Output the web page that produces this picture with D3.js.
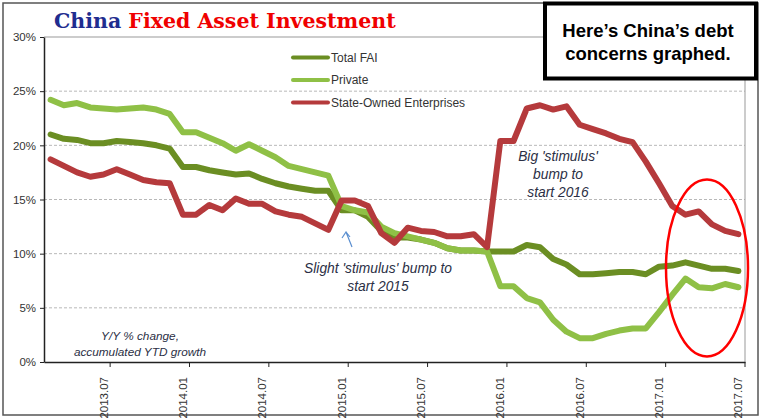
<!DOCTYPE html>
<html>
<head>
<meta charset="utf-8">
<script src="https://cdn.jsdelivr.net/npm/d3@7"></script>
<style>
  body { margin: 0; background: #fff; }
  svg { display: block; }
</style>
</head>
<body>
<div class="chart"></div>
<script>
// months on the axis, 2013.03 .. 2017.07
var months = [];
for (var yr = 2013; yr <= 2017; yr++) {
  for (var mo = 1; mo <= 12; mo++) {
    if (yr == 2013 && mo < 3) continue;
    if (yr == 2017 && mo > 7) continue;
    months.push(yr + "." + (mo < 10 ? "0" + mo : mo));
  }
}

var tickLabels = ["2013.07", "2014.01", "2014.07", "2015.01", "2015.07",
                  "2016.01", "2016.07", "2017.01", "2017.07"];
var yTicks = [0, 5, 10, 15, 20, 25, 30];

var totalFAI = [21.0, 20.6, 20.5, 20.2, 20.2, 20.4, 20.3, 20.2, 20.0, 19.7,
                18.0, 18.0, 17.7, 17.5, 17.3, 17.4, 16.9, 16.5, 16.2, 16.0, 15.8, 15.8,
                14.0, 14.0, 13.4, 12.1, 11.5, 11.5, 11.3, 11.0, 10.5, 10.3, 10.3, 10.2,
                10.2, 10.2, 10.8, 10.6, 9.5, 9.0, 8.1, 8.1, 8.2, 8.3, 8.3, 8.1,
                8.8, 8.9, 9.2, 8.9, 8.6, 8.6, 8.4];

var privateFAI = [24.2, 23.7, 23.9, 23.5, 23.4, 23.3, 23.4, 23.5, 23.3, 22.9,
                  21.2, 21.2, 20.7, 20.2, 19.5, 20.1, 19.5, 18.9, 18.1, 17.8, 17.5, 17.2,
                  14.4, 14.0, 13.8, 12.5, 11.9, 11.6, 11.3, 11.0, 10.5, 10.3, 10.3, 10.2,
                  7.0, 7.0, 5.9, 5.5, 3.9, 2.8, 2.2, 2.2, 2.6, 2.9, 3.1, 3.1,
                  4.6, 6.2, 7.7, 6.9, 6.8, 7.2, 6.9];

var soeFAI = [18.7, 18.1, 17.5, 17.1, 17.3, 17.8, 17.3, 16.8, 16.6, 16.5,
              13.6, 13.6, 14.5, 14.0, 15.1, 14.6, 14.6, 13.9, 13.6, 13.4, 12.8, 12.2,
              14.9, 14.9, 14.4, 11.9, 11.0, 12.4, 12.1, 12.0, 11.6, 11.6, 11.8, 10.6,
              20.4, 20.4, 23.4, 23.7, 23.3, 23.6, 21.9, 21.5, 21.1, 20.6, 20.3, 18.5,
              16.5, 14.4, 13.6, 13.9, 12.7, 12.1, 11.8];

var seriesNames = ["Total FAI", "Private", "State-Owned Enterprises"];
var seriesColors = ["#6b8e23", "#8fc046", "#b53a3c"];
var seriesData = [totalFAI, privateFAI, soeFAI];

var W = 765, H = 420;
var plotL = 44, plotR = 745, plotT = 37, plotB = 362;

var svg = d3.select(".chart").append("svg")
    .attr("width", W)
    .attr("height", H);

// outer frame
svg.append("rect")
    .attr("x", 3).attr("y", 3)
    .attr("width", 755).attr("height", 412)
    .attr("fill", "#fff")
    .attr("stroke", "#555")
    .attr("stroke-width", 1.5);

var x = d3.scaleBand().domain(months).range([plotL, plotR]).padding(0);
var y = d3.scaleLinear().domain([0, 30]).range([plotB, plotT]);

// gridlines
svg.append("g").selectAll("line")
    .data(yTicks.filter(function (d) { return d > 0 && d < 30; }))
    .enter().append("line")
    .attr("x1", plotL).attr("x2", plotR)
    .attr("y1", function (d) { return y(d); })
    .attr("y2", function (d) { return y(d); })
    .attr("stroke", "#b8b8b8")
    .attr("stroke-dasharray", "3,2")
    .attr("stroke-width", 1);

// plot border top/right
svg.append("path")
    .attr("d", "M" + plotL + "," + y(30) + "H" + plotR + "V" + plotB)
    .attr("fill", "none")
    .attr("stroke", "#999")
    .attr("stroke-width", 1);

// y axis
var yAxis = svg.append("g")
    .attr("transform", "translate(" + plotL + ",0)")
    .call(d3.axisLeft(y).tickValues(yTicks).tickSize(4).tickSizeOuter(0)
      .tickFormat(function (d) { return d + "%"; }));
yAxis.select(".domain").attr("stroke", "#222").attr("stroke-width", 1.5);
yAxis.selectAll(".tick line").attr("stroke", "#222");
yAxis.selectAll("text")
    .attr("x", -8)
    .attr("fill", "#333")
    .style("font-family", "'Liberation Sans Narrow', Arial, sans-serif")
    .style("font-size", "11.5px");

// x axis: labels at month centers, tick marks at band edges
var xAxis = svg.append("g")
    .attr("transform", "translate(0," + plotB + ")")
    .call(d3.axisBottom(x).tickValues(tickLabels).tickSize(0).tickSizeOuter(0));
xAxis.select(".domain").attr("stroke", "#222").attr("stroke-width", 1.5);
xAxis.selectAll("text")
    .attr("transform", "rotate(-90)")
    .attr("x", -15)
    .attr("y", 0)
    .attr("dy", "0.35em")
    .attr("text-anchor", "end")
    .attr("fill", "#333")
    .style("font-family", "'Liberation Sans Narrow', Arial, sans-serif")
    .style("font-size", "11.5px");
xAxis.selectAll(".tickmark")
    .data(tickLabels)
    .enter().append("line")
    .attr("x1", function (d) { return x(d) + x.bandwidth(); })
    .attr("x2", function (d) { return x(d) + x.bandwidth(); })
    .attr("y1", 0).attr("y2", 5)
    .attr("stroke", "#222");

// lines
var line = d3.line()
    .x(function (d, i) { return x(months[i]) + x.bandwidth() / 2; })
    .y(function (d) { return y(d); });

svg.append("g").selectAll("path")
    .data(seriesData)
    .enter().append("path")
    .attr("d", line)
    .attr("fill", "none")
    .attr("stroke", function (d, i) { return seriesColors[i]; })
    .attr("stroke-width", 6)
    .attr("stroke-linejoin", "round")
    .attr("stroke-linecap", "round");

// legend
var legend = svg.append("g").selectAll("g")
    .data(seriesNames)
    .enter().append("g")
    .attr("transform", function (d, i) { return "translate(293," + (57.5 + i * 22.5) + ")"; });
legend.append("line")
    .attr("x1", 0).attr("x2", 35)
    .attr("stroke", function (d, i) { return seriesColors[i]; })
    .attr("stroke-width", 4)
    .attr("stroke-linecap", "round");
legend.append("text")
    .attr("x", 38).attr("dy", "0.36em")
    .attr("fill", "#333")
    .style("font-family", "'Liberation Sans', Arial, sans-serif")
    .style("font-size", "12px")
    .text(function (d) { return d; });

// title
var title = svg.append("text")
    .attr("x", 54).attr("y", 28)
    .style("font-family", "'DejaVu Serif', serif")
    .style("font-size", "20.5px")
    .style("font-weight", "bold");
title.append("tspan").attr("fill", "#1f2d8f").attr("font-weight", "normal").style("font-weight", "600").text("China ");
title.append("tspan").attr("fill", "#f00000").text("Fixed Asset Investment");

// annotations
function note(lines, cx, cy, size, gap, color) {
  var t = svg.append("text")
      .attr("text-anchor", "middle")
      .attr("fill", color)
      .style("font-family", "'Liberation Sans', Arial, sans-serif")
      .style("font-style", "italic")
      .style("font-size", size + "px");
  lines.forEach(function (s, i) {
    t.append("tspan").attr("x", cx).attr("y", cy + i * gap).text(s);
  });
}
note(["Slight 'stimulus' bump to", "start 2015"], 378, 273, 13.8, 18, "#2b2f45");
note(["Big 'stimulus'", "bump to", "start 2016"], 558, 161, 13.8, 17.8, "#2b2f45");
note(["Y/Y % change,", "accumulated YTD growth"], 140, 340, 11.8, 16, "#2b2f45");

// small blue arrow
svg.append("path")
    .attr("d", "M352,247 L346,232 M342,238 L346,232 L350,237")
    .attr("fill", "none")
    .attr("stroke", "#5b8fd0")
    .attr("stroke-width", 1.2);

// red ellipse
svg.append("ellipse")
    .attr("cx", 707).attr("cy", 268)
    .attr("rx", 41).attr("ry", 88.5)
    .attr("fill", "none")
    .attr("stroke", "#ff0000")
    .attr("stroke-width", 2.5);

// note box
svg.append("rect")
    .attr("x", 545).attr("y", 3.5)
    .attr("width", 211).attr("height", 75)
    .attr("fill", "#fff")
    .attr("stroke", "#000")
    .attr("stroke-width", 4);
svg.append("text")
    .attr("text-anchor", "middle")
    .style("font-family", "'Liberation Sans', Arial, sans-serif")
    .style("font-weight", "bold")
    .style("font-size", "18.5px")
    .selectAll("tspan")
    .data(["Here\u2019s China\u2019s debt", "concerns graphed."])
    .enter().append("tspan")
    .attr("x", 648)
    .attr("y", function (d, i) { return 36.5 + i * 23; })
    .text(function (d) { return d; });
</script>
</body>
</html>
